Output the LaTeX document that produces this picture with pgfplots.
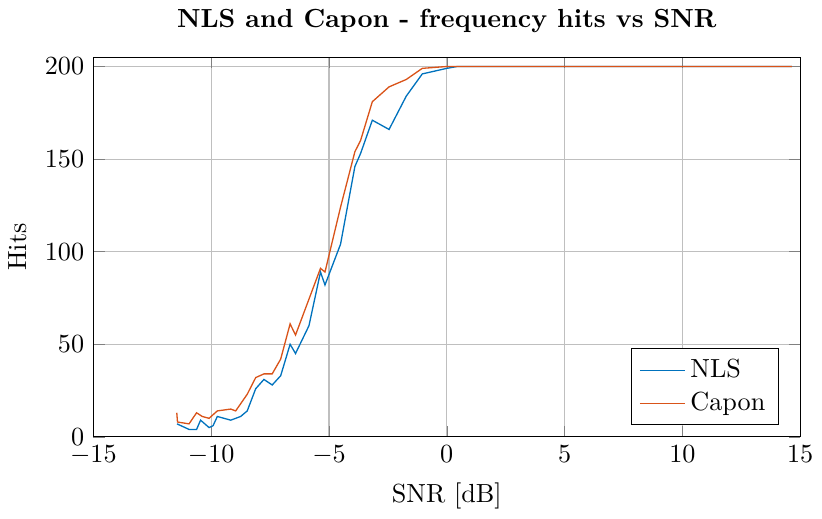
\documentclass[border=0pt]{standalone}
\usepackage{pgfplots}
\pgfplotsset{compat=1.18}
\definecolor{nlsblue}{RGB}{0,114,189}
\definecolor{caponred}{RGB}{217,83,25}
\begin{document}
\begin{tikzpicture}
\begin{axis}[
  scale only axis,
  width=270pt, height=145pt,
  xmin=-15, xmax=15, ymin=0, ymax=205,
  xtick={-15,-10,...,15}, ytick={0,50,...,200},
  grid=major,
  major grid style={gray!50},
  title={\textbf{NLS and Capon - frequency hits vs SNR}},
  xlabel={SNR [dB]}, ylabel={Hits},
  legend pos=south east,
  legend cell align=left,
  tick align=inside,
]
\addplot[nlsblue, line width=0.5pt] coordinates {
(-11.45,7) (-10.94,4) (-10.62,4) (-10.45,9) (-10.09,5) (-9.92,6) (-9.74,11)
(-9.17,9) (-8.75,11) (-8.47,14) (-8.11,26) (-7.76,31) (-7.41,28) (-7.05,33)
(-6.65,50) (-6.42,45) (-5.85,60) (-5.36,89) (-5.17,82) (-4.51,104) (-3.90,146)
(-3.66,153) (-3.16,171) (-2.45,166) (-1.72,184) (-1.04,196) (0.0,199) (0.44,200)
(14.65,200)
};
\addlegendentry{NLS}
\addplot[caponred, line width=0.5pt] coordinates {
(-11.46,13) (-11.43,8) (-10.94,7) (-10.62,13) (-10.38,11) (-10.09,10) (-9.74,14)
(-9.17,15) (-8.96,14) (-8.47,23) (-8.11,32) (-7.76,34) (-7.41,34) (-7.05,42)
(-6.65,61) (-6.42,55) (-5.36,91) (-5.17,89) (-4.51,124) (-3.90,154) (-3.66,160)
(-3.16,181) (-2.45,189) (-1.72,193) (-1.04,199) (0.0,200) (14.65,200)
};
\addlegendentry{Capon}
\end{axis}
\end{tikzpicture}
\end{document}
